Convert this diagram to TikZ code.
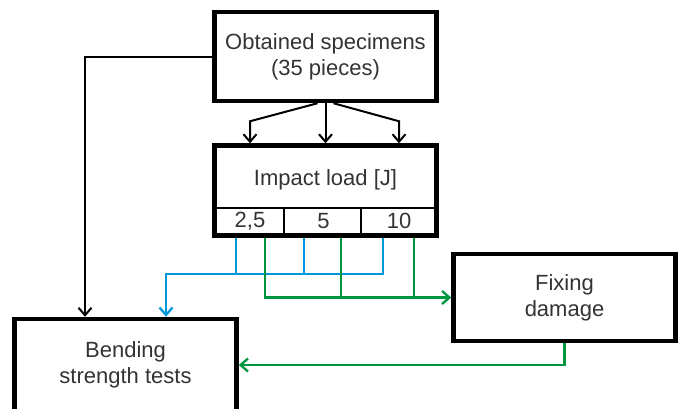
\documentclass[tikz,border=0pt]{standalone}
\usepackage{fontspec}
\setmainfont{Liberation Sans}
\usetikzlibrary{arrows.meta,positioning,calc}
\definecolor{lineblue}{RGB}{0,152,218}
\definecolor{linegreen}{RGB}{0,150,64}
\tikzset{
  box/.style ={draw,line width=4.5pt,align=center,text=black!80,
               minimum width=222pt,inner sep=0pt,
               font=\fontsize{22}{26}\selectfont},
  cell/.style={text=black!80,inner sep=0pt,font=\fontsize{22}{26}\selectfont},
  ar/.style  ={-{Straight Barb[length=7.5pt,width=13pt]},line width=2pt},
  bl/.style  ={draw=lineblue,line width=2.3pt},
  gr/.style  ={draw=linegreen,line width=2.3pt},
}

\begin{document}
\begin{tikzpicture}[x=1pt,y=-1pt]
\useasboundingbox (0,0) rectangle (682,408);
\clip (0,0) rectangle (682,408);
\node[box,minimum height=89pt] (spec) at (325.5,56.5) {Obtained specimens\\(35 pieces)};
\node[box,minimum height=90pt,below=40pt of spec] (impact) {};
\node[cell] (imp) at (325.5,180) {Impact load [J]};
\node[cell] (v1) at (250,221) {2,5};
\node[cell] (v2) at (323.5,221) {5};
\node[cell] (v3) at (399,221) {10};
\node[box,minimum height=87pt] (fix) at (564.5,297.5) {Fixing\\damage};
\node[box,minimum height=92pt] (bend) at (125.5,365) {Bending\\strength tests};
% cells of the impact box
\draw[line width=2.2pt] ($(impact.south west)+(2,-30)$) -- ($(impact.south east)+(-2,-30)$);
\draw[line width=2.2pt] ($(impact.south west)+(72,0)$) -- ++(0,-30);
\draw[line width=2.2pt] ($(impact.south west)+(149,0)$) -- ++(0,-30);
% specimens to loads
\draw[ar] ($(spec.south)+(-8,0)$) -- ($(impact.north -| v1)+(0,-22)$) -- (impact.north -| v1);
\draw[ar] (spec.south) -- (impact.north);
\draw[ar] ($(spec.south)+(8,0)$) -- ($(impact.north -| v3)+(0,-22)$) -- (impact.north -| v3);
\draw[ar] (spec.west) -| ($(bend.north)+(-40.5,0)$);
% blue: straight to bending
\draw[bl,ar,line width=2.3pt] ($(impact.south -| v3)+(-16,0)$) -- ++(0,36) -| ($(bend.north)+(40.5,0)$);
\draw[bl] ($(impact.south -| v1)+(-14,0)$) -- ++(0,36);
\draw[bl] ($(impact.south -| v2)+(-19.5,0)$) -- ++(0,36);
% green: through fixing
\draw[gr,ar,line width=2.3pt] ($(impact.south -| v1)+(15,0)$) |- (fix.west);
\draw[gr] ($(impact.south -| v2)+(17.5,0)$) coordinate (g2) -- (g2 |- fix.west);
\draw[gr] ($(impact.south -| v3)+(15,0)$) coordinate (g3) -- (g3 |- fix.west);
\draw[gr,ar,line width=2.3pt] (fix.south) |- (bend.east);
\end{tikzpicture}
\end{document}
